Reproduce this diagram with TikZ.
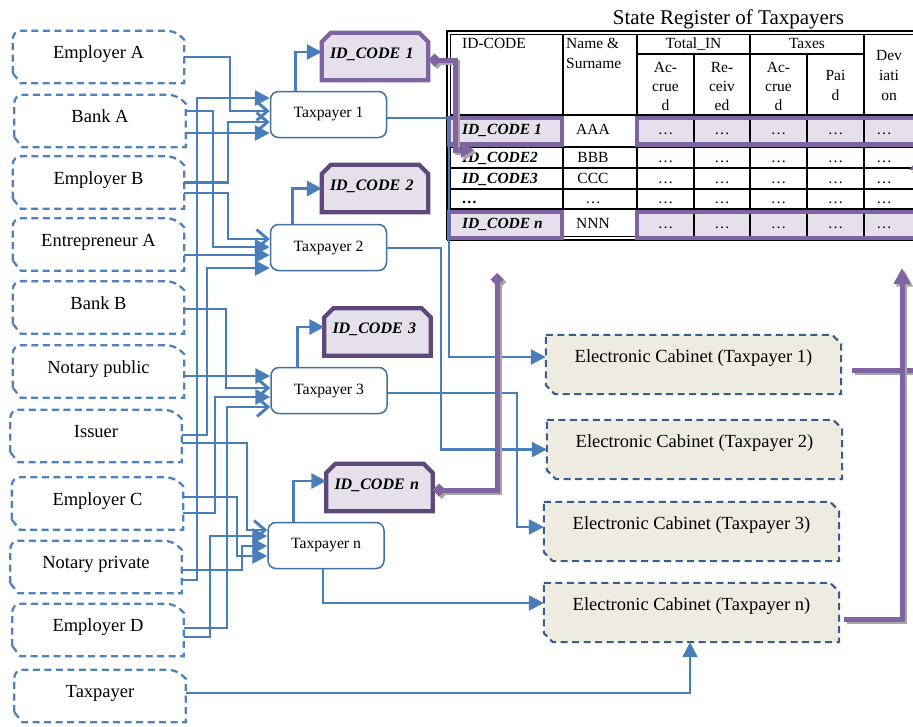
\documentclass[tikz,border=0pt]{standalone}
\usepackage{fontspec}
\setmainfont{Liberation Serif}
\usetikzlibrary{arrows.meta,calc}
\definecolor{wireblue}{HTML}{4A7EBB}
\definecolor{dashblue}{HTML}{4F81BD}
\definecolor{cabblue}{HTML}{385D8A}
\definecolor{tpborder}{HTML}{41719C}
\definecolor{purp}{HTML}{8064A2}
\definecolor{dpurp}{HTML}{5F497A}
\definecolor{lav}{HTML}{E5E0EC}
\definecolor{cabfill}{HTML}{EEECE1}
\pgfdeclarelayer{bg}
\pgfsetlayers{bg,main}
\newcommand\srcoutline[1]{\draw[srcline] ($(#1.south west)+(0,-10)$) [rounded corners=8pt] -- (#1.north west) -- ($(#1.north east)+(-9,0)$) [sharp corners] -- ($(#1.north east)+(0,9)$) -- (#1.south east) -- ($(#1.south west)+(8,0)$) -- cycle;}
\newcommand\caboutline[1]{\draw[cabline] (#1.north west) -- ($(#1.north east)+(-9,0)$) -- ($(#1.north east)+(0,9)$) -- (#1.south east) -- ($(#1.south west)+(9,0)$) -- ($(#1.south west)+(0,-9)$) -- cycle;}
\newcommand\idoutline[2]{\draw[idline=#2] (#1.south west) -- ($(#1.north west)+(0,9)$) -- ($(#1.north west)+(9,0)$) -- ($(#1.north east)+(-9,0)$) -- ($(#1.north east)+(0,9)$) -- (#1.south east) -- cycle;}
\newcommand\pconn[2]{\draw[pshadow,#1] #2; \draw[pline,#1] #2;}
\tikzset{
 src/.style={rectangle, minimum width=171pt, minimum height=52pt, inner sep=0pt, font=\fontsize{18.5}{22}\selectfont, text height=13pt, text depth=10pt},
 srcline/.style={draw=dashblue, line width=2.3pt, dash pattern=on 7pt off 4.5pt},
 tp/.style={rectangle, rounded corners=8pt, draw=tpborder, line width=1.5pt, fill=white, minimum width=116pt, minimum height=46pt, inner sep=0pt, font=\fontsize{15.7}{19}\selectfont},
 idb/.style={rectangle, minimum width=106pt, minimum height=47pt, inner xsep=8pt, inner ysep=0pt, text width=90pt, align=left, font=\fontsize{16}{19}\selectfont\bfseries\itshape, text height=11pt, text depth=8pt},
 idline/.style={draw=#1, line width=4.3pt, fill=lav},
 cab/.style={rectangle, minimum width=295pt, minimum height=59pt, inner sep=0pt, font=\fontsize{18.5}{22}\selectfont, text height=13pt, text depth=17pt},
 cabline/.style={draw=cabblue, fill=cabfill, line width=2pt, dash pattern=on 7pt off 4.5pt},
 wire/.style={draw=wireblue, line width=2.9pt},
 wiretwo/.style={draw=wireblue, line width=2.4pt},
 farr/.style={-{Triangle[length=15pt,width=15pt]}},
 oarr/.style={-{Straight Barb[length=11pt,width=19pt]}},
 tt/.style={font=\fontsize{15.5}{19}\selectfont, inner sep=0pt},
 ttb/.style={font=\fontsize{15.5}{19}\selectfont\bfseries\itshape, inner sep=0pt},
 tline/.style={draw=black, line width=1.2pt},
 prect/.style={draw=purp, line width=4.6pt},
 pline/.style={draw=purp, line width=5pt},
 pshadow/.style={draw=black!35, line width=5pt, transform canvas={shift={(2.5pt,-2.5pt)}}},
}
\begin{document}
\begin{tikzpicture}[x=1pt,y=-1pt]
\useasboundingbox (0,0) rectangle (913,726);
\clip (0,0) rectangle (913,726);
% sources
\node[src] (ea) at (98.5,57) {Employer A};
\node[src] (bka) at (100,121) {Bank A};
\node[src] (eb) at (98.5,182.5) {Employer B};
\node[src] (enta) at (98.5,244.5) {Entrepreneur A};
\node[src] (bkb) at (98.5,307.5) {Bank B};
\node[src] (npub) at (98.5,371.5) {Notary public};
\node[src] (iss) at (96,436) {Issuer};
\node[src] (ec) at (97.5,503.5) {Employer C};
\node[src] (npriv) at (96,567) {Notary private};
\node[src] (ed) at (98,630) {Employer D};
\node[src] (tps) at (100,696) {Taxpayer};
% taxpayers
\node[tp] (t1) at (328.5,114.5) {Taxpayer 1};
\node[tp] (t2) at (328.5,247.5) {Taxpayer 2};
\node[tp] (t3) at (329,390.5) {Taxpayer 3};
\node[tp] (tn) at (326,545.5) {Taxpayer n};
% id codes
\node[idb] (id1) at (375,56.5) {ID\_CODE 1};
\node[idb] (id2) at (375,188.5) {ID\_CODE 2};
\node[idb] (id3) at (377.5,332) {ID\_CODE 3};
\node[idb] (idn) at (379.5,487.5) {ID\_CODE n};
% cabinets
\node[cab] (c1) at (693.5,364.5) {Electronic Cabinet (Taxpayer 1)};
\node[cab] (c2) at (694.5,449.5) {Electronic Cabinet (Taxpayer 2)};
\node[cab] (c3) at (691.5,531.5) {Electronic Cabinet (Taxpayer 3)};
\node[cab] (cn) at (691.5,612.5) {Electronic Cabinet (Taxpayer n)};
\begin{pgfonlayer}{bg}
\foreach \n in {ea,bka,eb,enta,bkb,npub,iss,ec,npriv,ed,tps} {\srcoutline{\n}}
\foreach \n in {c1,c2,c3,cn} {\caboutline{\n}}
\idoutline{id1}{purp}
\idoutline{id2}{dpurp}
\idoutline{id3}{dpurp}
\idoutline{idn}{dpurp}
\end{pgfonlayer}
% wires from sources to taxpayers
\draw[wire,oarr] (ea.east) -- (230,57) |- ($(t1.west)+(0,-3.5)$);
\draw[wire,farr] ($(bka.east)+(0,-10)$) -- (213,111) |- ($(t2.west)+(0,-0.5)$);
\draw[wire,farr] ($(bka.east)+(0,12)$) -- ($(t1.west)+(0,18.5)$);
\draw[wire,oarr] (eb.east) -- (228,182.5) |- ($(t1.west)+(0,7.5)$);
\draw[wire,oarr] ($(eb.east)+(0,10.5)$) -- (228,193) |- ($(t2.west)+(0,-8.5)$);
\draw[wire,farr] ($(enta.east)+(0,10.5)$) -- ($(t2.west)+(0,7.5)$);
\draw[wire,oarr] ($(bkb.east)+(0,1.5)$) -- (226,309) |- ($(t3.west)+(0,-2.5)$);
\draw[wire,farr] ($(npub.east)+(0,4.5)$) -- ($(t3.west)+(0,-14.5)$);
\draw[wire,farr] ($(iss.east)+(0,-1)$) -- (207,435) |- ($(t2.west)+(0,20.5)$);
\draw[wire,oarr] ($(iss.east)+(0,7)$) -- (247,443) |- ($(tn.west)+(0,-15.5)$);
\draw[wire,farr] ($(ec.east)+(0,-6.5)$) -- (237,497) |- ($(tn.west)+(0,10.5)$);
\draw[wire,farr] ($(ec.east)+(0,9.5)$) -- (215,513) |- ($(t3.west)+(0,6.5)$);
\draw[wire,farr] ($(npriv.east)+(0,3)$) -- (242,570) |- ($(tn.west)+(0,0.5)$);
\draw[wire,farr] ($(npriv.east)+(0,13)$) -- (197,580) |- ($(t1.west)+(0,-16.5)$);
\draw[wire,oarr] ($(ed.east)+(0,-2)$) -- (227,628) |- ($(t3.west)+(0,16.5)$);
\draw[wire,farr] ($(ed.east)+(0,7)$) -- (210,637) |- ($(tn.west)+(0,-9.5)$);
% taxpayer to id code
\draw[wire,farr] ($(t1.north west)+(26,0)$) |- ($(id1.west)+(0,-4.5)$);
\draw[wire,farr] ($(t2.north west)+(23,0)$) |- (id2.west);
\draw[wire,farr] ($(t3.north west)+(27,0)$) |- ($(id3.west)+(0,-5)$);
\draw[wire,farr] ($(tn.north west)+(26,0)$) |- ($(idn.west)+(0,-6.5)$);
% table
\node[font=\fontsize{21}{25}\selectfont, anchor=base, inner sep=0pt] (title) at (728.5,24) {State Register of Taxpayers};
\fill[lav] (449,118) rectangle (562,144.5);
\fill[lav] (637,118) rectangle (920,144.5);
\fill[lav] (449,212) rectangle (562,238);
\fill[lav] (637,212) rectangle (920,238);
\draw[black, line width=2pt] (447,240) -- (447,31) -- (920,31);
\draw[black, line width=1pt] (450.5,240) -- (450.5,34.5) -- (920,34.5);
\draw[black, line width=2pt] (447,240) -- (920,240);
\draw[black, line width=1pt] (450.5,236.5) -- (920,236.5);
\foreach \xx in {563,637,750,864} {\draw[tline] (\xx,34.5) -- (\xx,236.5);}
\foreach \xx in {694,807} {\draw[tline] (\xx,54) -- (\xx,236.5);}
\draw[tline] (637,54) -- (864,54);
\foreach \yy in {115,147,168,189,209} {\draw[tline] (450.5,\yy) -- (920,\yy);}
\draw[prect] (449,118) rectangle (562,144.5);
\draw[prect] (637,118) rectangle (925,144.5);
\draw[prect] (449,212) rectangle (562,238);
\draw[prect] (637,212) rectangle (925,238);
\node[tt,anchor=base west] (hid) at (462,48.5) {ID-CODE};
\node[tt,anchor=base west] (hnm1) at (566,48.5) {Name \&};
\node[tt,anchor=base west] (hnm2) at (566,68.5) {Surname};
\node[tt,anchor=base] (htot) at (693.5,48.5) {Total\_IN};
\node[tt,anchor=base] (htax) at (807,48.5) {Taxes};
\foreach \xx/\a/\b/\c/\k in {665.5/Ac-/crue/d/a, 722/Re-/ceiv/ed/r, 778.5/Ac-/crue/d/c} {
  \node[tt,anchor=base] (h\k1) at (\xx,72) {\a};
  \node[tt,anchor=base] (h\k2) at (\xx,91) {\b};
  \node[tt,anchor=base] (h\k3) at (\xx,110) {\c};
}
\node[tt,anchor=base] (hp1) at (835.5,80) {Pai};
\node[tt,anchor=base] (hp2) at (835.5,100) {d};
\node[tt,anchor=base] (hd1) at (889,60.5) {Dev};
\node[tt,anchor=base] (hd2) at (889,80) {iati};
\node[tt,anchor=base] (hd3) at (889,100) {on};
\foreach \r/\yy/\idt/\nm in {1/134/{ID\_CODE 1}/AAA, 2/162/{ID\_CODE2}/BBB, 3/183/{ID\_CODE3}/CCC, 4/203/{…}/{…}, 5/228.5/{ID\_CODE n}/NNN} {
  \node[ttb,anchor=base west] (rid\r) at (462,\yy) {\idt};
  \node[tt,anchor=base] (rnm\r) at (593,\yy) {\nm};
  \foreach \xx/\c in {665.5/1,722/2,778.5/3,835.5/4,884/5} {
    \node[tt,anchor=base] (rd\r-\c) at (\xx,\yy) {…};
  }
}
% taxpayer to cabinets
\draw[wiretwo,farr] ($(t1.east)+(0,3.5)$) -- (449,118) |- ($(c1.west)+(0,-7.5)$);
\draw[wiretwo,farr] ($(t2.east)+(0,0.5)$) -- (441,248) |- (c2.west);
\draw[wiretwo,farr] ($(t3.east)+(0,2.5)$) -- (517,393) |- ($(c3.west)+(0,-4.5)$);
\draw[wiretwo,farr] ($(tn.south)+(-3,0)$) |- ($(cn.west)+(0,-9.5)$);
\draw[wiretwo,farr] ($(tps.east)+(0,-3)$) -| ($(cn.south)+(-1.5,0)$);
% purple connectors
\pconn{{Diamond[length=13pt,width=13pt]}-{Triangle[length=13pt,width=15pt]}}{($(id1.east)+(0,3.5)$) -- (455,60) -- (455,150) -- (474,150)}
\pconn{{Diamond[length=13pt,width=13pt]}-{Diamond[length=13pt,width=13pt]}}{($(idn.east)+(0,2.5)$) -- (497,490) -- (497,273)}
\pconn{-{Triangle[length=12pt,width=16pt]}}{($(c1.east)+(11,5.5)$) -- (918,370) -- (918,158)}
\pconn{-{Triangle[length=16pt,width=16pt]}}{($(cn.east)+(5,6.5)$) -- (902,619) -- (902,268)}
\end{tikzpicture}
\end{document}
